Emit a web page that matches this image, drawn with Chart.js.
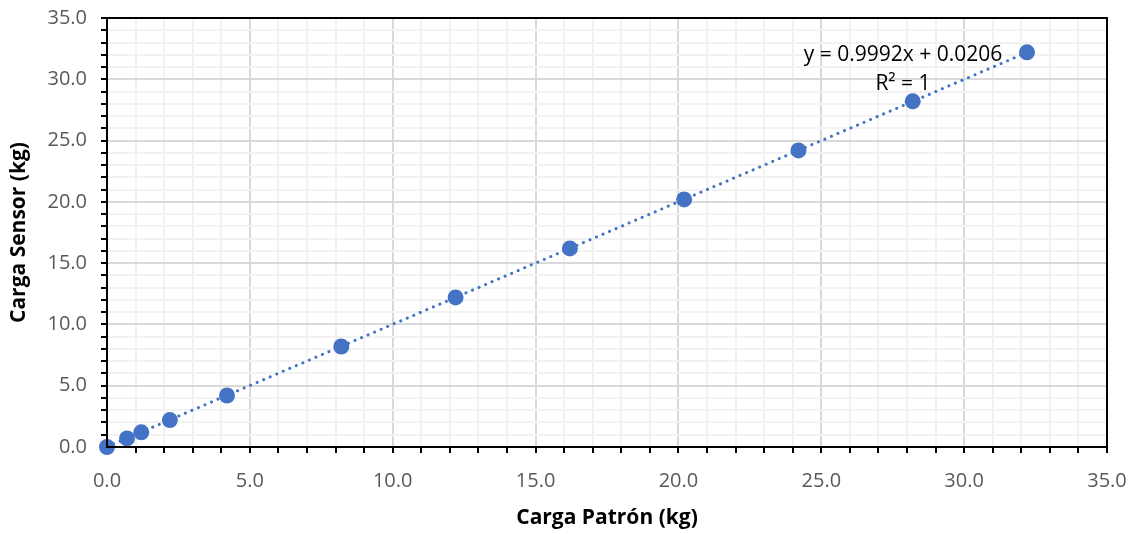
<!DOCTYPE html>
<html>
<head>
<meta charset="utf-8">
<script src="https://cdn.jsdelivr.net/npm/chart.js@4/dist/chart.umd.min.js"></script>
<style>
  html, body { margin: 0; padding: 0; background: #fff; }
  #wrap { width: 1131px; height: 534px; }
</style>
</head>
<body>
<div id="wrap"><canvas id="chart" width="1131" height="534"></canvas></div>
<script>
// data
const cargaPatron = [0, 0.7, 1.2, 2.2, 4.2, 8.2, 12.2, 16.2, 20.2, 24.2, 28.2, 32.2];
const cargaSensor = [0, 0.7, 1.2, 2.2, 4.2, 8.2, 12.2, 16.2, 20.2, 24.2, 28.2, 32.2];
const trendX = [0, 32.2];
const trendY = [0.02, 32.19];
const equationText = "y = 0.9992x + 0.0206";
const r2Text = "R² = 1";

const blue = "#4472C4";
const fontFam = "'Open Sans', 'Liberation Sans', sans-serif";

// frame round the plot area + trendline label
const framePlugin = {
  id: "frame",
  afterDraw(chart) {
    const { ctx, chartArea, scales } = chart;
    ctx.save();
    ctx.strokeStyle = "#000";
    ctx.lineWidth = 2;
    ctx.strokeRect(chartArea.left, chartArea.top, chartArea.right - chartArea.left, chartArea.bottom - chartArea.top);

    ctx.fillStyle = "#000";
    ctx.font = "21px " + fontFam;
    ctx.textAlign = "center";
    ctx.textBaseline = "middle";
    ctx.fillText(equationText, scales.x.getPixelForValue(27.86), scales.y.getPixelForValue(32.0));
    ctx.fillText(r2Text, scales.x.getPixelForValue(27.86), scales.y.getPixelForValue(29.6));
    ctx.restore();
  }
};

const points = cargaPatron.map((x, i) => ({ x: x, y: cargaSensor[i] }));
const trend = trendX.map((x, i) => ({ x: x, y: trendY[i] }));

function gridColor(c) {
  return c.tick && c.tick.value % 5 === 0 ? "#D9D9D9" : "#F2F2F2";
}

new Chart(document.getElementById("chart"), {
  type: "scatter",
  data: {
    datasets: [
      {
        label: "Carga",
        data: points,
        backgroundColor: blue,
        borderColor: blue,
        pointRadius: 8,
        pointHoverRadius: 8,
        pointBorderWidth: 0,
        clip: false,
        order: 0
      },
      {
        label: "Tendencia",
        type: "line",
        data: trend,
        borderColor: blue,
        borderWidth: 3,
        borderDash: [0.1, 7],
        borderCapStyle: "round",
        pointRadius: 0,
        fill: false,
        order: 1
      }
    ]
  },
  options: {
    responsive: false,
    animation: false,
    layout: { padding: { top: 18, right: 24, left: 0, bottom: 0 } },
    plugins: {
      legend: { display: false },
      tooltip: { enabled: false }
    },
    scales: {
      x: {
        type: "linear",
        min: 0,
        max: 35,
        afterFit(s) { s.height = 87; s.paddingLeft = 0; s.paddingRight = 0; },
        ticks: {
          stepSize: 1,
          autoSkip: false,
          maxRotation: 0,
          padding: 16,
          color: "#595959",
          font: { family: fontFam, size: 20 },
          callback: v => (v % 5 === 0 ? v.toFixed(1) : "")
        },
        grid: { color: gridColor, lineWidth: 2, tickColor: "#000", tickLength: 6, tickWidth: 2 },
        border: { display: true, color: "#000", width: 2 },
        title: {
          display: true,
          text: "Carga Patrón (kg)",
          color: "#000",
          font: { family: fontFam, size: 21, weight: "bold" },
          padding: { top: 0, bottom: 3 }
        }
      },
      y: {
        type: "linear",
        min: 0,
        max: 35,
        afterFit(s) { s.width = 107; s.paddingTop = 0; s.paddingBottom = 0; },
        ticks: {
          stepSize: 1,
          autoSkip: false,
          padding: 14,
          color: "#595959",
          font: { family: fontFam, size: 20 },
          callback: v => (v % 5 === 0 ? v.toFixed(1) : "")
        },
        grid: { color: gridColor, lineWidth: 2, tickColor: "#000", tickLength: 6, tickWidth: 2 },
        border: { display: true, color: "#000", width: 2 },
        title: {
          display: true,
          text: "Carga Sensor (kg)",
          color: "#000",
          font: { family: fontFam, size: 21, weight: "bold" },
          padding: { top: 6, bottom: 0 }
        }
      }
    }
  },
  plugins: [framePlugin]
});
</script>
</body>
</html>
